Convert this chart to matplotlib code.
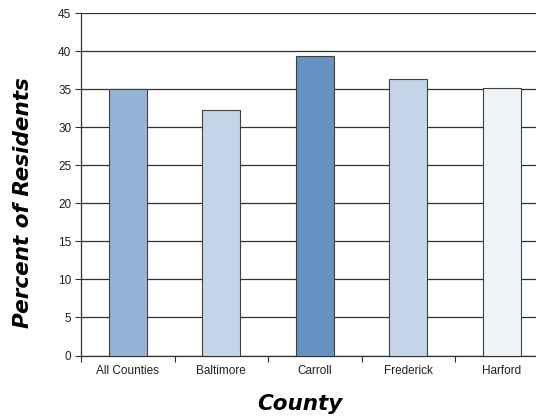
import matplotlib.pyplot as plt
import numpy as np

# county names and percent of residents
counties = ['All Counties', 'Baltimore', 'Carroll', 'Frederick', 'Harford']
percents = [35.0, 32.3, 39.4, 36.3, 35.2]
colors = ['#95B3D7', '#C5D5E8', '#6592C0', '#C5D5E8', '#EEF3F8']
yticks = list(range(0, 50, 5))

plt.rcParams['font.family'] = ['Liberation Sans', 'DejaVu Sans']

fig = plt.figure(figsize=(5.36, 4.18), dpi=100)
# plot area runs off the right edge like the original screenshot
ax = fig.add_axes([81 / 536, (418 - 355.5) / 418, 467.5 / 536, 342.5 / 418])

x = np.arange(len(counties))
ax.bar(x, percents, width=0.41, color=colors, edgecolor='#404040',
       linewidth=0.8, zorder=3)

ax.set_xlim(-0.5, len(counties) - 0.5)
ax.set_ylim(0, 45)
ax.set_yticks(yticks)
ax.yaxis.grid(True, color='#303030', linewidth=0.9, zorder=0)

ax.set_xticks(x)
ax.set_xticklabels(counties, fontsize=8.5, color='#202020')
ax.set_xticks(np.arange(len(counties) + 1) - 0.5, minor=True)
ax.tick_params(axis='x', which='major', length=0, pad=7)
ax.tick_params(axis='x', which='minor', length=4, width=0.8, color='#303030')
ax.tick_params(axis='y', labelsize=8.5, labelcolor='#202020', length=4,
               width=0.8, color='#303030', pad=3)

for s in ['top', 'right']:
    ax.spines[s].set_visible(False)
for s in ['left', 'bottom']:
    ax.spines[s].set_color('#303030')
    ax.spines[s].set_linewidth(0.9)

lab = dict(fontsize=15.5, fontweight='heavy', fontstyle='italic',
           family=['DejaVu Sans'])
fig.text(300 / 536, 1 - 404 / 418, 'County', ha='center', va='center', **lab)
fig.text(23 / 536, 1 - 203 / 418, 'Percent of Residents', ha='center',
         va='center', rotation=90, **lab)

fig.savefig('out.png', dpi=100)
